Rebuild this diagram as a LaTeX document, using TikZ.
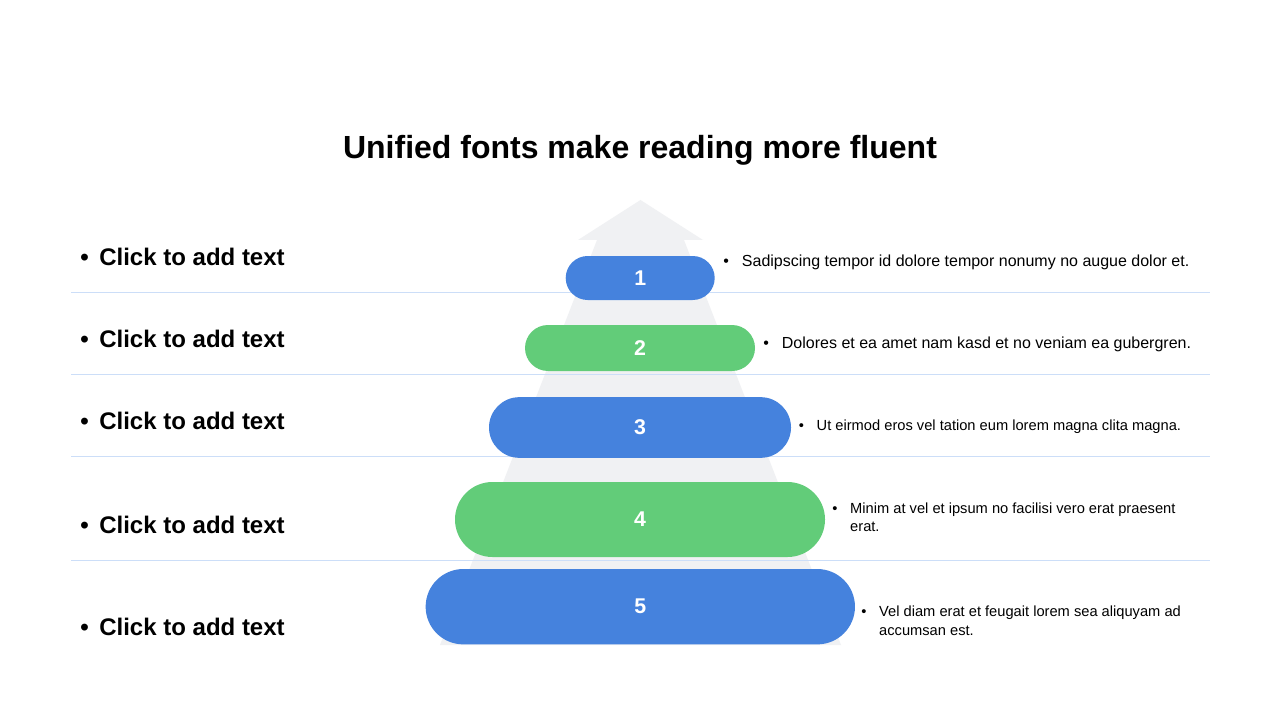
\documentclass[tikz,border=0pt]{standalone}
\usepackage{fontspec}
\setmainfont{Liberation Sans}

\definecolor{barblue}{RGB}{69,130,221}
\definecolor{bargreen}{RGB}{98,204,121}
\definecolor{arrowgray}{RGB}{240,241,243}
\definecolor{rulecolor}{RGB}{204,222,248}

\begin{document}
\begin{tikzpicture}[
    x=0.75pt, y=-0.75pt,
    bar/.style={rectangle, inner sep=0pt, text=white, font=\fontsize{16}{19}\selectfont\bfseries},
    heading/.style={anchor=base west, inner sep=0pt, font=\fontsize{18}{22}\selectfont\bfseries},
    note/.style={anchor=base west, inner sep=0pt, font=\fontsize{12}{14.5}\selectfont},
    smallnote/.style={note, font=\fontsize{11}{14}\selectfont},
    sep/.style={draw=rulecolor, line width=0.75pt}
]
    \useasboundingbox (0,0) rectangle (1280,720);
    \fill[white] (0,0) rectangle (1280,720);

    % Title
    \node[anchor=base, font=\fontsize{24}{29}\selectfont\bfseries] (title) at (640,159) {Unified fonts make reading more fluent};

    % Arrow behind the bars
    \fill[arrowgray] (640.5,200) -- (703,240) -- (684,240) -- (841,645)
        -- (440,645) -- (597,240) -- (578,240) -- cycle;

    % Separators
    \foreach \y in {292,374.7,456.7,560}
        \draw[sep] (71,\y) -- (1210,\y);

    % Bars
    \node[bar, fill=barblue, minimum width=111.75pt, minimum height=33pt, rounded corners=16.5pt] (bar1) at (640.2,278) {1};
    \node[bar, fill=bargreen, minimum width=172.5pt, minimum height=34.5pt, rounded corners=17.25pt] (bar2) at (640,348) {2};
    \node[bar, fill=barblue, minimum width=226.5pt, minimum height=45.5pt, rounded corners=22.75pt] (bar3) at (640,427.5) {3};
    \node[bar, fill=bargreen, minimum width=277.5pt, minimum height=56.25pt, rounded corners=28.1pt] (bar4) at (640,519.5) {4};
    \node[bar, fill=barblue, minimum width=322pt, minimum height=56.5pt, rounded corners=28.25pt] (bar5) at (640.3,606.7) {5};

    % Left headings
    \node[heading] (head1) at (80,265.5) {\textbullet\hspace{8pt}Click to add text};
    \node[heading] (head2) at (80,347.5) {\textbullet\hspace{8pt}Click to add text};
    \node[heading] (head3) at (80,429.5) {\textbullet\hspace{8pt}Click to add text};
    \node[heading] (head4) at (80,533.5) {\textbullet\hspace{8pt}Click to add text};
    \node[heading] (head5) at (80,635.5) {\textbullet\hspace{8pt}Click to add text};

    % Right notes
    \node[note] (note1) at (723,266) {\begin{tabular}[t]{@{}l@{\hspace{9.8pt}}l@{}}
        \textbullet & Sadipscing tempor id dolore tempor nonumy no augue dolor et.\end{tabular}};
    \node[note] (note2) at (763,348.3) {\begin{tabular}[t]{@{}l@{\hspace{9.8pt}}l@{}}
        \textbullet & Dolores et ea amet nam kasd et no veniam ea gubergren.\end{tabular}};
    \node[smallnote] (note3) at (798.5,430) {\begin{tabular}[t]{@{}l@{\hspace{9.6pt}}l@{}}
        \textbullet & Ut eirmod eros vel tation eum lorem magna clita magna.\end{tabular}};
    \node[smallnote] (note4) at (832,513.3) {\begin{tabular}[t]{@{}l@{\hspace{9.6pt}}l@{}}
        \textbullet & Minim at vel et ipsum no facilisi vero erat praesent\\
        & erat.\end{tabular}};
    \node[smallnote] (note5) at (861,616.7) {\begin{tabular}[t]{@{}l@{\hspace{9.6pt}}l@{}}
        \textbullet & Vel diam erat et feugait lorem sea aliquyam ad\\
        & accumsan est.\end{tabular}};

\end{tikzpicture}
\end{document}
